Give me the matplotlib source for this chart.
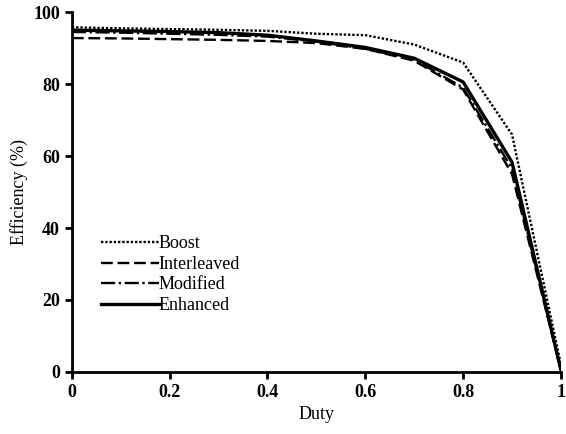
import matplotlib
matplotlib.use("Agg")
import matplotlib.pyplot as plt

plt.rcParams['font.family'] = ['Liberation Serif', 'DejaVu Serif']

duty = [0.0, 0.1, 0.2, 0.3, 0.4, 0.5, 0.6, 0.7, 0.8, 0.9, 1.0]
boost = [95.8, 95.5, 95.3, 95.1, 94.8, 94.0, 93.6, 91.0, 86.0, 66.0, 2.0]
interleaved = [92.8, 92.7, 92.5, 92.3, 92.0, 91.4, 89.8, 86.5, 78.5, 55.0, 0.5]
modified = [94.5, 94.3, 94.0, 93.7, 93.2, 91.8, 89.8, 86.8, 79.0, 56.5, 0.5]
enhanced = [95.0, 94.8, 94.6, 94.3, 93.6, 92.0, 90.2, 87.2, 80.6, 58.3, 0.5]

labels = ['Boost', 'Interleaved', 'Modified', 'Enhanced']

fig = plt.figure(figsize=(5.66, 4.34), dpi=100)
ax = fig.add_axes([0.127, 0.143, 0.864, 0.829])

ax.plot(duty, boost, color='black', lw=1.7, ls=(0, (1, 0.8)), label=labels[0])
ax.plot(duty, interleaved, color='black', lw=1.7, ls=(0, (5, 2)), label=labels[1])
ax.plot(duty, modified, color='black', lw=1.7, ls=(0, (6, 1.5, 1, 1.5)), label=labels[2])
ax.plot(duty, enhanced, color='black', lw=2.4, ls='-', label=labels[3])

ax.set_xlim(0, 1)
ax.set_ylim(0, 100)
ax.set_xticks([0, 0.2, 0.4, 0.6, 0.8, 1])
ax.set_xticklabels(['0', '0.2', '0.4', '0.6', '0.8', '1'])
ax.set_yticks([0, 20, 40, 60, 80, 100])
for s in ['top', 'right']:
    ax.spines[s].set_visible(False)
for s in ['left', 'bottom']:
    ax.spines[s].set_linewidth(2)
ax.tick_params(width=2, length=5, labelsize=13, direction='out')
for lab in ax.get_xticklabels() + ax.get_yticklabels():
    lab.set_fontweight('bold')

ax.set_xlabel('Duty', fontsize=13)
ax.set_ylabel('Efficiency (%)', fontsize=13)

leg = ax.legend(loc='upper left', bbox_to_anchor=(0.045, 0.40), frameon=False,
                fontsize=13, handlelength=3.2, handletextpad=0.0,
                labelspacing=0.2, borderaxespad=0)

fig.savefig('out.png', dpi=100)
